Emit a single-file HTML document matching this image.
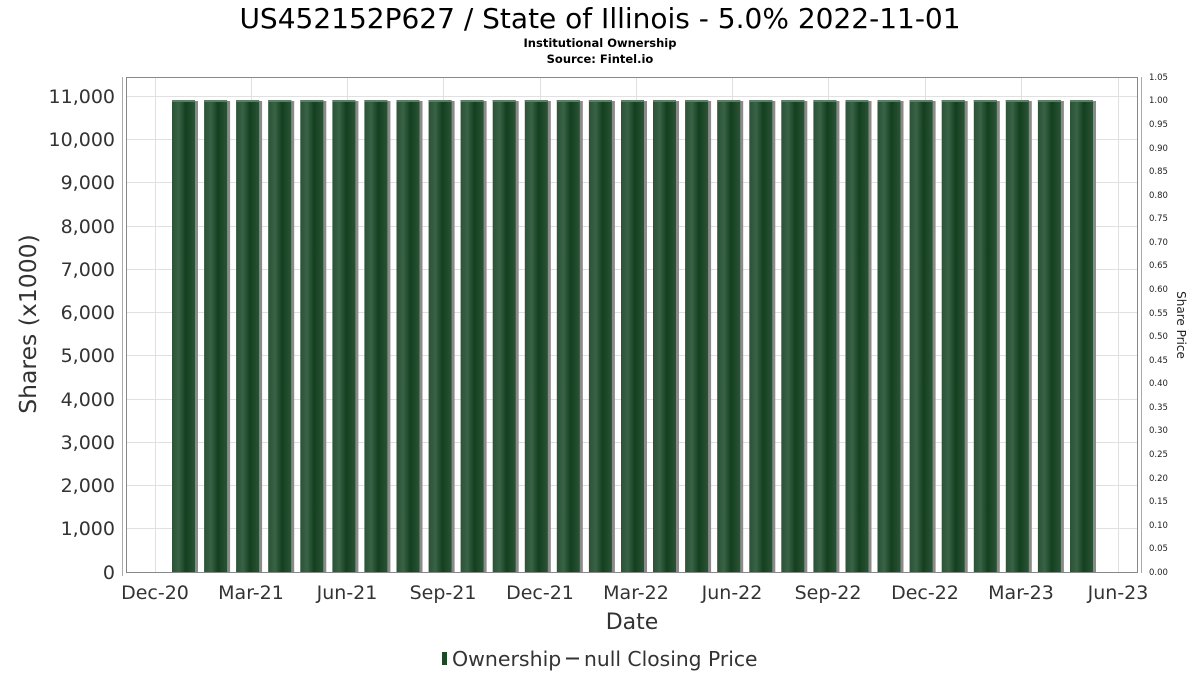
<!DOCTYPE html>
<html><head><meta charset="utf-8"><style>
html,body{margin:0;padding:0;background:#fff;}
svg{display:block;font-family:"DejaVu Sans","Liberation Sans",sans-serif;}
</style></head><body>
<svg width="1200" height="675" viewBox="0 0 1200 675" xmlns="http://www.w3.org/2000/svg">
<defs>
<linearGradient id="g" x1="0" x2="1" y1="0" y2="0">
<stop offset="0" stop-color="#2a5436"/>
<stop offset="0.3" stop-color="#3a6246"/>
<stop offset="0.6" stop-color="#13401f"/>
<stop offset="1" stop-color="#2c5236"/>
</linearGradient>
<g id="b">
<rect x="3" y="101" width="23" height="471" fill="#8a8a8a"/>
<rect x="0" y="100" width="23" height="472" fill="url(#g)"/>
<rect x="0" y="100" width="23" height="2" fill="#5d7f66"/>
</g>
</defs>
<text x="600" y="28" text-anchor="middle" font-size="28" fill="#000">US452152P627 / State of Illinois - 5.0% 2022-11-01</text>
<text x="600" y="47" text-anchor="middle" font-size="11.5" font-weight="bold" fill="#000">Institutional Ownership</text>
<text x="600" y="63" text-anchor="middle" font-size="11.5" font-weight="bold" fill="#000">Source: Fintel.io</text>
<rect x="126.5" y="77.5" width="1011" height="495" fill="#fff" stroke="#888"/>
<g stroke="#e0e0e0" stroke-width="1">
<line x1="127" x2="1137" y1="96.5" y2="96.5"/><line x1="127" x2="1137" y1="139.5" y2="139.5"/>
<line x1="127" x2="1137" y1="182.5" y2="182.5"/><line x1="127" x2="1137" y1="226.5" y2="226.5"/>
<line x1="127" x2="1137" y1="269.5" y2="269.5"/><line x1="127" x2="1137" y1="312.5" y2="312.5"/>
<line x1="127" x2="1137" y1="355.5" y2="355.5"/><line x1="127" x2="1137" y1="399.5" y2="399.5"/>
<line x1="127" x2="1137" y1="442.5" y2="442.5"/><line x1="127" x2="1137" y1="485.5" y2="485.5"/>
<line x1="127" x2="1137" y1="528.5" y2="528.5"/>
<line y1="78" y2="572" x1="155.5" x2="155.5"/><line y1="78" y2="572" x1="251.5" x2="251.5"/>
<line y1="78" y2="572" x1="347.5" x2="347.5"/><line y1="78" y2="572" x1="443.5" x2="443.5"/>
<line y1="78" y2="572" x1="540.5" x2="540.5"/><line y1="78" y2="572" x1="636.5" x2="636.5"/>
<line y1="78" y2="572" x1="732.5" x2="732.5"/><line y1="78" y2="572" x1="828.5" x2="828.5"/>
<line y1="78" y2="572" x1="925.5" x2="925.5"/><line y1="78" y2="572" x1="1021.5" x2="1021.5"/>
<line y1="78" y2="572" x1="1118.5" x2="1118.5"/>
</g>
<use href="#b" x="172"/><use href="#b" x="204.1"/><use href="#b" x="236.1"/><use href="#b" x="268.2"/>
<use href="#b" x="300.3"/><use href="#b" x="332.4"/><use href="#b" x="364.4"/><use href="#b" x="396.5"/>
<use href="#b" x="428.6"/><use href="#b" x="460.6"/><use href="#b" x="492.7"/><use href="#b" x="524.8"/>
<use href="#b" x="556.8"/><use href="#b" x="588.9"/><use href="#b" x="621"/><use href="#b" x="653"/>
<use href="#b" x="685.1"/><use href="#b" x="717.2"/><use href="#b" x="749.3"/><use href="#b" x="781.3"/>
<use href="#b" x="813.4"/><use href="#b" x="845.5"/><use href="#b" x="877.5"/><use href="#b" x="909.6"/>
<use href="#b" x="941.7"/><use href="#b" x="973.8"/><use href="#b" x="1005.8"/><use href="#b" x="1037.9"/>
<use href="#b" x="1070"/>
<line x1="126" x2="1138" y1="572.5" y2="572.5" stroke="#888"/>
<line x1="122.5" x2="122.5" y1="77" y2="576" stroke="#aaa"/>
<line x1="1141.5" x2="1141.5" y1="77" y2="573" stroke="#aaa"/>
<g font-size="19" fill="#333" text-anchor="end">
<text x="115" y="103">11,000</text><text x="115" y="146">10,000</text><text x="115" y="189">9,000</text>
<text x="115" y="233">8,000</text><text x="115" y="276">7,000</text><text x="115" y="319">6,000</text>
<text x="115" y="362">5,000</text><text x="115" y="406">4,000</text><text x="115" y="449">3,000</text>
<text x="115" y="492">2,000</text><text x="115" y="535">1,000</text><text x="115" y="579">0</text>
</g>
<g font-size="8.5" fill="#222">
<text x="1149" y="80">1.05</text><text x="1149" y="103">1.00</text><text x="1149" y="127">0.95</text>
<text x="1149" y="151">0.90</text><text x="1149" y="174">0.85</text><text x="1149" y="198">0.80</text>
<text x="1149" y="221">0.75</text><text x="1149" y="245">0.70</text><text x="1149" y="268">0.65</text>
<text x="1149" y="292">0.60</text><text x="1149" y="316">0.55</text><text x="1149" y="339">0.50</text>
<text x="1149" y="363">0.45</text><text x="1149" y="386">0.40</text><text x="1149" y="410">0.35</text>
<text x="1149" y="433">0.30</text><text x="1149" y="457">0.25</text><text x="1149" y="481">0.20</text>
<text x="1149" y="504">0.15</text><text x="1149" y="528">0.10</text><text x="1149" y="551">0.05</text>
<text x="1149" y="575">0.00</text>
</g>
<g font-size="19" fill="#333" text-anchor="middle">
<text x="155" y="599">Dec-20</text><text x="251" y="599">Mar-21</text><text x="347" y="599">Jun-21</text>
<text x="443" y="599">Sep-21</text><text x="540" y="599">Dec-21</text><text x="636" y="599">Mar-22</text>
<text x="732" y="599">Jun-22</text><text x="828" y="599">Sep-22</text><text x="925" y="599">Dec-22</text>
<text x="1021" y="599">Mar-23</text><text x="1118" y="599">Jun-23</text>
</g>
<text x="632" y="629" text-anchor="middle" font-size="22" fill="#333">Date</text>
<text transform="translate(36,324) rotate(-90)" text-anchor="middle" font-size="23.5" fill="#333">Shares (x1000)</text>
<text transform="translate(1177,325) rotate(90)" text-anchor="middle" font-size="12" fill="#222">Share Price</text>
<rect x="442" y="652" width="5" height="13" fill="#1a4a26"/>
<text x="452" y="666" font-size="20.5" fill="#333">Ownership</text>
<line x1="566" x2="579" y1="658.5" y2="658.5" stroke="#333" stroke-width="2"/>
<text x="584" y="666" font-size="20.3" fill="#333">null Closing Price</text>
</svg>
</body></html>
